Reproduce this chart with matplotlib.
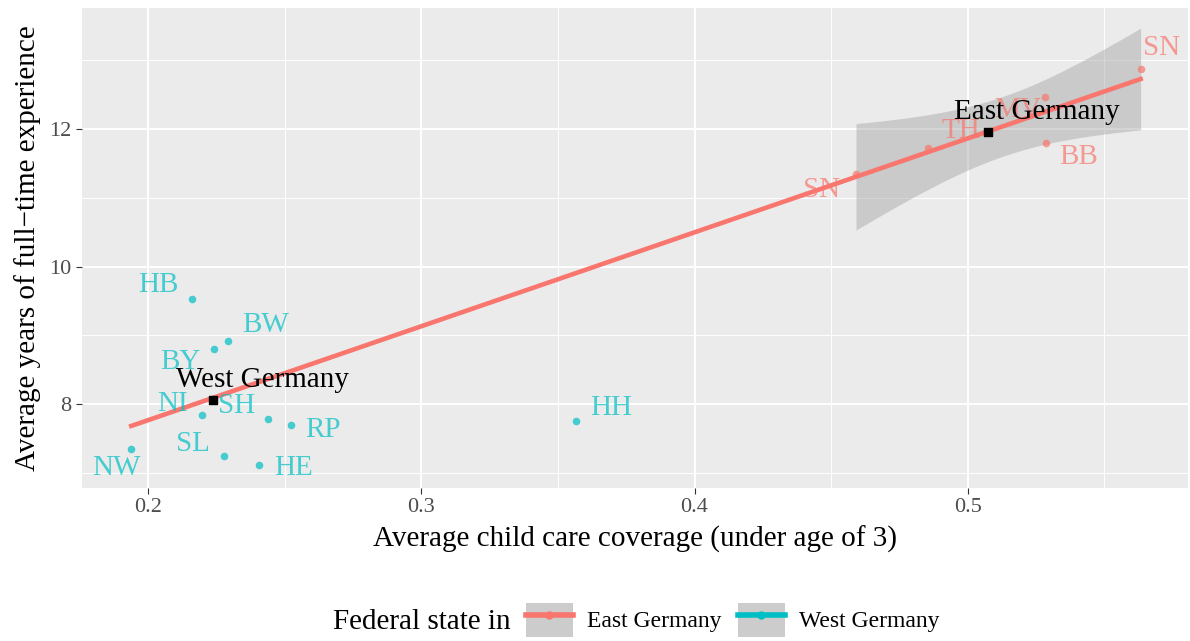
import numpy as np
import matplotlib.pyplot as plt
from matplotlib.patches import Patch
from matplotlib.lines import Line2D

plt.rcParams['font.family'] = ['Liberation Serif', 'DejaVu Serif']

# federal states
states = ['HB', 'BW', 'BY', 'NI', 'SH', 'RP', 'SL', 'HE', 'NW', 'HH',
          'SN', 'MV', 'TH', 'BB', 'SN']
region = ['West'] * 10 + ['East'] * 5
coverage = [0.2161, 0.2293, 0.2241, 0.2198, 0.2439, 0.2523, 0.2278, 0.2406, 0.1938, 0.3566,
            0.5633, 0.5282, 0.4854, 0.5286, 0.4591]
experience = [9.53, 8.92, 8.80, 7.84, 7.78, 7.69, 7.24, 7.11, 7.35, 7.75,
              12.87, 12.47, 11.72, 11.80, 11.34]
# label offsets in pixels
label_dx = [-34, 37, -34, -30, -32, 32, -31, 34, -15, 35, 21, -27, 33, 33, -34]
label_dy = [14, 16, -13, 11, 13, -5, 12, -3, -19, 13, 21, -13, 17, -14, -16]

# group averages
groups = ['East Germany', 'West Germany']
group_cov = [0.5073, 0.2238]
group_exp = [11.95, 8.06]

colors = {'East': '#F8766D', 'West': '#00BFC4'}

x = np.array(coverage)
y = np.array(experience)
reg = np.array(region)

fig = plt.figure(figsize=(11.9, 6.41), dpi=100)
ax = fig.add_axes([0.069, 0.2387, 0.929, 0.7488])
ax.set_facecolor('#EBEBEB')

# East-only linear fit with confidence band
xe, ye = x[reg == 'East'], y[reg == 'East']
b1, b0 = np.polyfit(xe, ye, 1)
n = len(xe)
resid = ye - (b0 + b1 * xe)
s = np.sqrt(np.sum(resid ** 2) / (n - 2))
xs = np.linspace(xe.min(), xe.max(), 80)
se = s * np.sqrt(1 / n + (xs - xe.mean()) ** 2 / np.sum((xe - xe.mean()) ** 2))
tval = 3.182
fit_e = b0 + b1 * xs
ax.fill_between(xs, fit_e - tval * se, fit_e + tval * se, color='#999999', alpha=0.4, lw=0, zorder=2)

# fitted line over the full range of states
xl = np.array([x.min(), x.max()])
ax.plot(xl, b0 + b1 * xl, color='#F8766D', lw=3.3, zorder=3)

for g in ['East', 'West']:
    m = reg == g
    ax.scatter(x[m], y[m], s=30, color=colors[g], alpha=0.7, lw=0, zorder=4)

for i, st in enumerate(states):
    ax.annotate(st, (coverage[i], experience[i]), xytext=(label_dx[i], label_dy[i]),
                textcoords='offset pixels', ha='center', va='center', fontsize=21,
                color=colors[region[i]], alpha=0.7, zorder=5)

ax.scatter(group_cov, group_exp, marker='s', s=30, color='black', zorder=6)
for gx, gy, g in zip(group_cov, group_exp, groups):
    ax.annotate(g, (gx, gy), xytext=(49, 20), textcoords='offset pixels',
                ha='center', va='center', fontsize=21, color='black', zorder=7)

ax.set_xlim(0.1758, 0.5805)
ax.set_ylim(6.78, 13.76)
ax.set_xticks([0.2, 0.3, 0.4, 0.5])
ax.set_xticklabels(['0.2', '0.3', '0.4', '0.5'])
ax.set_xticks([0.25, 0.35, 0.45, 0.55], minor=True)
ax.set_yticks([8, 10, 12])
ax.set_yticks([7, 9, 11, 13], minor=True)
ax.grid(which='major', color='white', lw=1.4)
ax.grid(which='minor', color='white', lw=0.7)
ax.set_axisbelow(True)
for sp in ax.spines.values():
    sp.set_visible(False)
ax.tick_params(which='major', length=4, color='#333333', labelsize=16, labelcolor='#4D4D4D')
ax.tick_params(which='minor', length=0)
ax.set_xlabel('Average child care coverage (under age of 3)', fontsize=21, labelpad=6)
ax.set_ylabel('Average years of full\u2212time experience', fontsize=21, labelpad=6)

# legend
handles = []
for g in ['East', 'West']:
    handles.append((Patch(facecolor='#CCCCCC', edgecolor='none'),
                    Line2D([], [], color=colors[g], lw=4, marker='o', markersize=5)))
fig.text(0.280, 0.03, 'Federal state in', fontsize=21, va='center')
fig.legend(handles, ['East Germany', 'West Germany'], loc='center left',
           bbox_to_anchor=(0.424, 0.033), ncol=2, frameon=False, fontsize=17,
           handlelength=2.0, handleheight=1.8, columnspacing=0.68, handletextpad=0.6)

fig.savefig('out.png', dpi=100)
